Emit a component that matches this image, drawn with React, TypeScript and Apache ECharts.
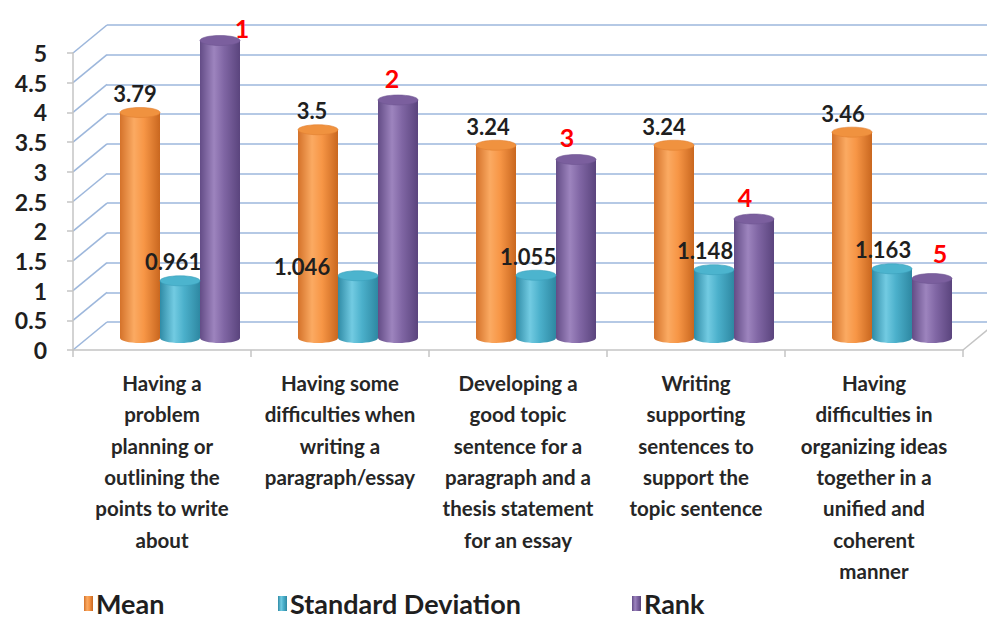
import { useEffect, useRef } from "react";
import * as echarts from "echarts";

// ---------- data ----------
const categories = [
  "Having a\nproblem\nplanning or\noutlining the\npoints to write\nabout",
  "Having some\ndifficulties when\nwriting a\nparagraph/essay",
  "Developing a\ngood topic\nsentence for a\nparagraph and a\nthesis statement\nfor an essay",
  "Writing\nsupporting\nsentences to\nsupport the\ntopic sentence",
  "Having\ndifficulties in\norganizing ideas\ntogether in a\nunified and\ncoherent\nmanner",
];
const seriesNames = ["Mean", "Standard Deviation", "Rank"];
const meanValues = [3.79, 3.5, 3.24, 3.24, 3.46];
const sdValues = [0.961, 1.046, 1.055, 1.148, 1.163];
const rankValues = [5, 4, 3, 2, 1];
const rankLabels = ["1", "2", "3", "4", "5"];
const yTickValues = [0, 0.5, 1, 1.5, 2, 2.5, 3, 3.5, 4, 4.5, 5];

// ---------- styles (not data) ----------
const FONT = "Lato, 'Open Sans', sans-serif";
const GRID_BLUE = "#9db7dc";
const DEPTH_X = 34;
const DEPTH_Y = -28;
const BAR_W = 40;
const meanLabelOffsets = [[-5, 0], [-6, 0], [-8, 0], [-10, 0], [-9, 0]];
const sdLabelOffsets = [[-7, 0], [-56, 10], [-8, 0], [-9, 0], [-9, 0]];
const rankLabelOffsets = [[22, 10], [-6, 0], [-9, 0], [-9, 0], [8, -3]];

const palettes = [
  { stops: ["#d4722a", "#fbaa62", "#f79646", "#c9671f"], top: "#f0923f", bottom: "#e07f30" },
  { stops: ["#2f8ba6", "#72cbe2", "#4bb0cb", "#2e88a2"], top: "#4cb4ce", bottom: "#3b9fbb" },
  { stops: ["#634c86", "#9d84be", "#8066a4", "#5a447d"], top: "#7b5f9e", bottom: "#6e5592" },
];

function grad(stops: string[]) {
  return new echarts.graphic.LinearGradient(0, 0, 1, 0, [
    { offset: 0, color: stops[0] },
    { offset: 0.35, color: stops[1] },
    { offset: 0.6, color: stops[2] },
    { offset: 1, color: stops[3] },
  ]);
}

export default function App() {
  const ref = useRef<HTMLDivElement>(null);
  useEffect(() => {
    if (!ref.current) return;
    const chart = echarts.init(ref.current, null, { renderer: "svg" });

    const valueSets = [meanValues, sdValues, rankValues];
    const offsets = [meanLabelOffsets, sdLabelOffsets, rankLabelOffsets];

    const barSeries: any[] = [];
    const capSeries: any[] = [];
    valueSets.forEach((vals, si) => {
      const pal = palettes[si];
      barSeries.push({
        type: "bar",
        name: seriesNames[si],
        xAxisIndex: 2,
        yAxisIndex: 2,
        barWidth: BAR_W,
        barGap: "0%",
        z: 2,
        itemStyle: { color: grad(pal.stops) },
        label: {
          show: true,
          position: "top",
          distance: si === 2 ? 10 : 8,
          fontFamily: FONT,
          fontWeight: "bold",
          fontSize: si === 2 ? 25 : 22,
          color: si === 2 ? "#ff0000" : "#1f1f1f",
          formatter: si === 2 ? (p: any) => rankLabels[p.dataIndex] : undefined,
        },
        data: vals.map((v, i) => ({ value: v, label: { offset: offsets[si][i] } })),
      });
      const shift = (si - 1) * BAR_W;
      // bottom caps (behind bodies)
      capSeries.push({
        type: "custom",
        xAxisIndex: 2,
        yAxisIndex: 2,
        z: 1,
        silent: true,
        data: vals.map((v, i) => [i, v]),
        renderItem: (_p: any, api: any) => {
          const base = api.coord([api.value(0), 0]);
          return {
            type: "ellipse",
            shape: { cx: base[0] + shift, cy: base[1], rx: BAR_W / 2, ry: 5 },
            style: { fill: grad(pal.stops) },
          };
        },
      });
      // top caps
      capSeries.push({
        type: "custom",
        xAxisIndex: 2,
        yAxisIndex: 2,
        z: 3,
        silent: true,
        data: vals.map((v, i) => [i, v]),
        renderItem: (_p: any, api: any) => {
          const top = api.coord([api.value(0), api.value(1)]);
          return {
            type: "ellipse",
            shape: { cx: top[0] + shift, cy: top[1], rx: BAR_W / 2, ry: 5 },
            style: { fill: pal.top, stroke: pal.bottom, lineWidth: 0.6 },
          };
        },
      });
    });

    const option: any = {
      animation: false,
      backgroundColor: "#ffffff",
      grid: [
        { left: 107, top: 25, width: 880, height: 297 }, // back wall
        { left: 73, top: 53, width: 890, height: 297 }, // front axes
        { left: 91, top: 40.5, width: 890, height: 297.5 }, // bars
      ],
      xAxis: [
        { gridIndex: 0, type: "value", min: 0, max: 1, show: false },
        {
          gridIndex: 1,
          type: "category",
          data: categories,
          axisLine: { show: true, lineStyle: { color: "#c4c4c4", width: 1.5 } },
          axisTick: { show: true, length: 7, lineStyle: { color: "#c4c4c4", width: 1.5 } },
          axisLabel: {
            interval: 0,
            margin: 17,
            fontFamily: FONT,
            fontWeight: "bold",
            fontSize: 20.5,
            lineHeight: 31.4,
            color: "#262626",
          },
        },
        { gridIndex: 2, type: "category", data: categories, show: false },
      ],
      yAxis: [
        {
          gridIndex: 0,
          type: "value",
          min: 0,
          max: 5,
          interval: 0.5,
          axisLine: { show: false },
          axisTick: { show: false },
          axisLabel: { show: false },
          splitLine: { show: true, lineStyle: { color: GRID_BLUE, width: 1.6 } },
        },
        {
          gridIndex: 1,
          type: "value",
          min: 0,
          max: 5,
          interval: 0.5,
          axisLine: { show: true, lineStyle: { color: "#c4c4c4", width: 1.5 } },
          axisTick: { show: true, length: 6, lineStyle: { color: "#c4c4c4", width: 1.5 } },
          splitLine: { show: false },
          axisLabel: {
            margin: 26,
            fontFamily: FONT,
            fontWeight: "bold",
            fontSize: 23,
            color: "#1f1f1f",
          },
        },
        { gridIndex: 2, type: "value", min: 0, max: 5, show: false },
      ],
      legend: [
        { data: [seriesNames[0]], left: 84, top: 590 },
        { data: [seriesNames[1]], left: 278, top: 590 },
        { data: [seriesNames[2]], left: 632, top: 590 },
      ].map((l) => ({
        ...l,
        padding: 0,
        icon: "rect",
        itemWidth: 9,
        itemHeight: 15,
        itemGap: 4,
        textStyle: { fontFamily: FONT, fontWeight: "bold", fontSize: 27, color: "#1f1f1f", padding: [0, 0, 0, -2] },
      })),
      series: [
        // side wall diagonals
        {
          type: "custom",
          xAxisIndex: 1,
          yAxisIndex: 1,
          z: 0,
          silent: true,
          data: yTickValues.map((v) => [0, v]),
          renderItem: (p: any, api: any) => {
            const cs = p.coordSys;
            const y = api.coord([0, api.value(1)])[1];
            return {
              type: "line",
              shape: { x1: cs.x, y1: y, x2: cs.x + DEPTH_X, y2: y + DEPTH_Y },
              style: { stroke: GRID_BLUE, lineWidth: 1.6 },
            };
          },
        },
        // floor right edge
        {
          type: "custom",
          xAxisIndex: 1,
          yAxisIndex: 1,
          z: 0,
          silent: true,
          data: [[0, 0]],
          renderItem: (p: any, api: any) => {
            const cs = p.coordSys;
            const y = api.coord([0, 0])[1];
            return {
              type: "line",
              shape: { x1: cs.x + cs.width, y1: y, x2: cs.x + cs.width + DEPTH_X, y2: y + DEPTH_Y },
              style: { stroke: "#c4c4c4", lineWidth: 1.5 },
            };
          },
        },
        ...capSeries,
        ...barSeries,
      ],
    };
    chart.setOption(option);
    return () => chart.dispose();
  }, []);
  return (
    <div
      ref={ref}
      style={{ position: "fixed", left: 0, top: 0, width: 987, height: 619, background: "#fff" }}
    />
  );
}
